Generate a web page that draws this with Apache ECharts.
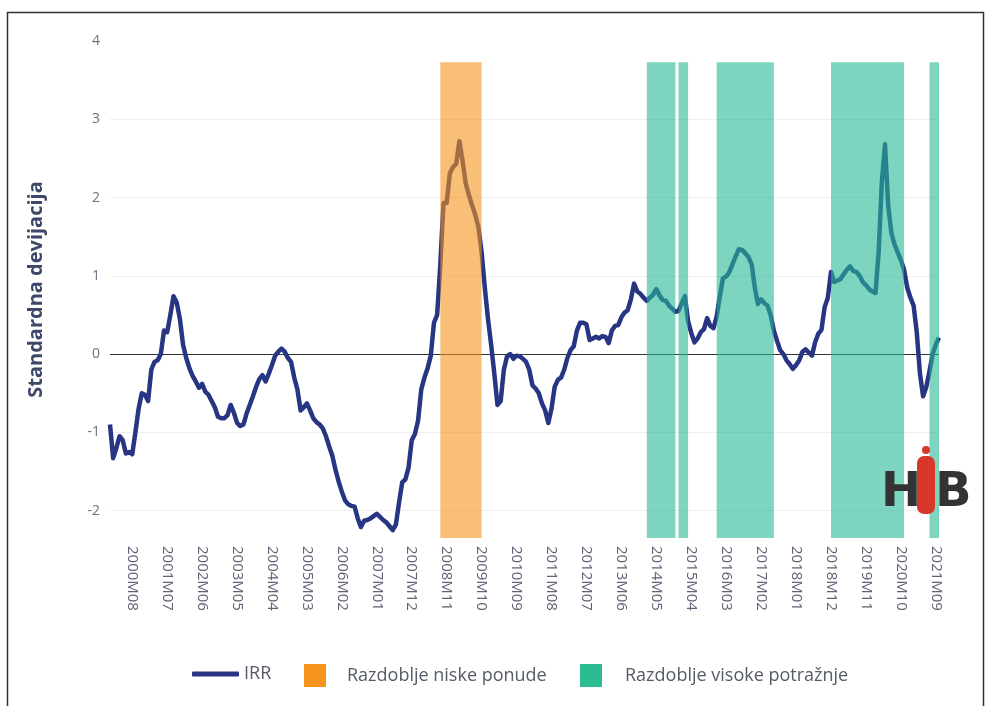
<!DOCTYPE html>
<html>
<head>
<meta charset="utf-8">
<script src="https://cdn.jsdelivr.net/npm/echarts@6/dist/echarts.min.js"></script>
<style>
  html, body { margin: 0; padding: 0; background: #fff; }
  #chart { width: 989px; height: 706px; }
</style>
</head>
<body>
<div id="chart"></div>
<script>
// monthly categories 2000M01 .. 2021M10
const startYear = 2000;
const monthCount = 262;
const months = [];
for (let i = 0; i < monthCount; i++) {
  const m = (i % 12) + 1;
  months.push(startYear + Math.floor(i / 12) + 'M' + (m < 10 ? '0' : '') + m);
}

// IRR, one row per year
const irr = [
  -0.9, -1.33, -1.2, -1.05, -1.1, -1.27, -1.25, -1.28, -1.0, -0.7, -0.5, -0.52,
  -0.6, -0.2, -0.1, -0.08, 0.0, 0.3, 0.28, 0.5, 0.74, 0.66, 0.45, 0.12,
  -0.05, -0.18, -0.28, -0.35, -0.43, -0.38, -0.48, -0.52, -0.6, -0.68, -0.8, -0.82,
  -0.82, -0.78, -0.65, -0.75, -0.88, -0.92, -0.9, -0.76, -0.65, -0.54, -0.42, -0.32,
  -0.27, -0.35, -0.25, -0.14, -0.02, 0.03, 0.07, 0.03, -0.05, -0.1, -0.3, -0.45,
  -0.72, -0.68, -0.63, -0.72, -0.82, -0.87, -0.9, -0.95, -1.05, -1.18, -1.3, -1.48,
  -1.63, -1.76, -1.87, -1.92, -1.94, -1.95, -2.1, -2.21, -2.13, -2.12, -2.1, -2.07,
  -2.04, -2.08, -2.12, -2.15, -2.2, -2.25, -2.18, -1.9, -1.64, -1.6, -1.45, -1.1,
  -1.02, -0.85, -0.45, -0.3, -0.18, -0.02, 0.4, 0.5, 1.15, 1.93, 1.93, 2.31,
  2.39, 2.43, 2.72, 2.47, 2.18, 2.03, 1.9, 1.78, 1.62, 1.3, 0.85, 0.45,
  0.12, -0.25, -0.65, -0.6, -0.2, -0.03, 0.0, -0.06, -0.02, -0.03, -0.06, -0.1,
  -0.2, -0.4, -0.44, -0.5, -0.63, -0.72, -0.88, -0.7, -0.42, -0.33, -0.3, -0.2,
  -0.05, 0.05, 0.1, 0.3, 0.4, 0.4, 0.38, 0.18, 0.2, 0.22, 0.2, 0.23,
  0.22, 0.14, 0.3, 0.36, 0.37, 0.47, 0.53, 0.56, 0.7, 0.9, 0.8, 0.77,
  0.72, 0.68, 0.72, 0.76, 0.83, 0.75, 0.69, 0.68, 0.62, 0.58, 0.54, 0.55,
  0.65, 0.74, 0.42, 0.27, 0.15, 0.2, 0.28, 0.32, 0.46, 0.36, 0.33, 0.48,
  0.74, 0.97, 0.99, 1.05, 1.15, 1.25, 1.34, 1.33, 1.29, 1.24, 1.15, 0.85,
  0.64, 0.7, 0.65, 0.62, 0.5, 0.3, 0.17, 0.05, 0.0, -0.08, -0.13, -0.19,
  -0.14, -0.08, 0.03, 0.06, 0.02, -0.02, 0.15, 0.26, 0.31, 0.6, 0.72, 1.05,
  0.92, 0.94, 0.96, 1.02, 1.08, 1.12, 1.06, 1.05, 1.0, 0.92, 0.88, 0.83,
  0.8, 0.78, 1.3, 2.2, 2.68, 1.9, 1.55, 1.4, 1.3, 1.2, 1.08, 0.85,
  0.72, 0.62, 0.28, -0.25, -0.54, -0.42, -0.22, 0.0, 0.12, 0.21
];

// shaded periods [from, to]
const lowSupply = [['2008M09', '2009M10']];
const highDemand = [
  ['2014M02', '2014M11'],
  ['2014M12', '2015M03'],
  ['2015M12', '2017M06'],
  ['2018M12', '2020M11'],
  ['2021M07', '2021M10']
];
const shadeTop = 3.73;

const yMin = -2.35;
const yMax = 4;
const firstLabel = 7;   // 2000M08
const labelStep = 11;

const toAreas = (list) => list.map(p => [
  { xAxis: p[0], yAxis: shadeTop },
  { xAxis: p[1], yAxis: yMin }
]);

const chart = echarts.init(document.getElementById('chart'));
const labelFont = 'Open Sans';
const legendText = { color: '#555b66', fontSize: 18, fontFamily: labelFont };

const option = {
  backgroundColor: '#fff',
  animation: false,
  grid: { left: 110, right: 50, top: 41, bottom: 168, containLabel: false },
  legend: [
    {
      left: 187, top: 660, itemWidth: 47, itemHeight: 5, icon: 'roundRect',
      data: ['IRR'],
      textStyle: legendText
    },
    {
      left: 299, top: 659, itemWidth: 22, itemHeight: 23, icon: 'rect',
      data: ['Razdoblje niske ponude'],
      textStyle: Object.assign({ padding: [0, 0, 0, 16] }, legendText)
    },
    {
      left: 575, top: 659, itemWidth: 22, itemHeight: 23, icon: 'rect',
      data: ['Razdoblje visoke potražnje'],
      textStyle: Object.assign({ padding: [0, 0, 0, 18] }, legendText)
    }
  ],
  xAxis: {
    type: 'category',
    data: months,
    boundaryGap: false,
    axisLine: { show: false },
    axisTick: { show: false },
    splitLine: { show: false },
    axisLabel: {
      rotate: -90,
      margin: 8,
      color: '#5d6374',
      fontSize: 15,
      fontFamily: labelFont,
      interval: (idx) => idx >= firstLabel && (idx - firstLabel) % labelStep === 0
    }
  },
  yAxis: {
    type: 'value',
    min: yMin,
    max: yMax,
    splitNumber: 6,
    name: 'Standardna devijacija',
    nameLocation: 'middle',
    nameGap: 64,
    nameTextStyle: { color: '#3d4767', fontSize: 20, fontWeight: 'bold', fontFamily: labelFont },
    axisLine: { show: false },
    axisTick: { show: false },
    axisLabel: {
      color: '#6b7080', fontSize: 14, fontFamily: labelFont, margin: 10,
      formatter: (v) => (Math.abs(v - Math.round(v)) < 1e-9 ? String(Math.round(v)) : '')
    },
    splitLine: {
      showMinLine: false,
      showMaxLine: false,
      lineStyle: { color: '#eceef3', width: 1 }
    }
  },
  graphic: [
    {
      type: 'rect', left: 5, top: 10, silent: true,
      shape: { width: 976, height: 720 },
      style: { fill: 'none', stroke: '#333', lineWidth: 1.5 }
    },
    {
      type: 'group', left: 881, top: 446, silent: true,
      children: [
        { type: 'text', x: 0, y: 20, z: 100, style: { text: 'H', fill: '#333333', font: 'bold 48px "DejaVu Sans"' } },
        { type: 'rect', x: 36, y: 6, z: 101, shape: { width: 18, height: 58, r: 7 }, style: { fill: '#d8382c' } },
        { type: 'circle', x: 45, y: 0, z: 101, shape: { r: 4 }, style: { fill: '#d8382c' } },
        { type: 'text', x: 54, y: 20, z: 100, style: { text: 'B', fill: '#333333', font: 'bold 48px "DejaVu Sans"' } }
      ]
    }
  ],
  series: [
    {
      name: 'IRR',
      type: 'line',
      data: irr,
      showSymbol: false,
      color: '#283583',
      lineStyle: { color: '#283583', width: 4.5, join: 'round' },
      z: 2,
      markLine: {
        silent: true,
        symbol: 'none',
        z: 1,
        label: { show: false },
        lineStyle: { color: '#333', width: 1, type: 'solid' },
        data: [{ yAxis: 0 }]
      }
    },
    {
      name: 'Razdoblje niske ponude',
      type: 'line',
      data: [],
      color: '#f7941d',
      itemStyle: { color: '#f7941d' },
      markArea: {
        silent: true,
        z: 5,
        itemStyle: { color: 'rgba(247,148,29,0.6)' },
        data: toAreas(lowSupply)
      }
    },
    {
      name: 'Razdoblje visoke potražnje',
      type: 'line',
      data: [],
      color: '#2dbb92',
      itemStyle: { color: '#2dbb92' },
      markArea: {
        silent: true,
        z: 5,
        itemStyle: { color: 'rgba(38,185,150,0.6)' },
        data: toAreas(highDemand)
      }
    }
  ]
};

chart.setOption(option);
</script>
</body>
</html>
